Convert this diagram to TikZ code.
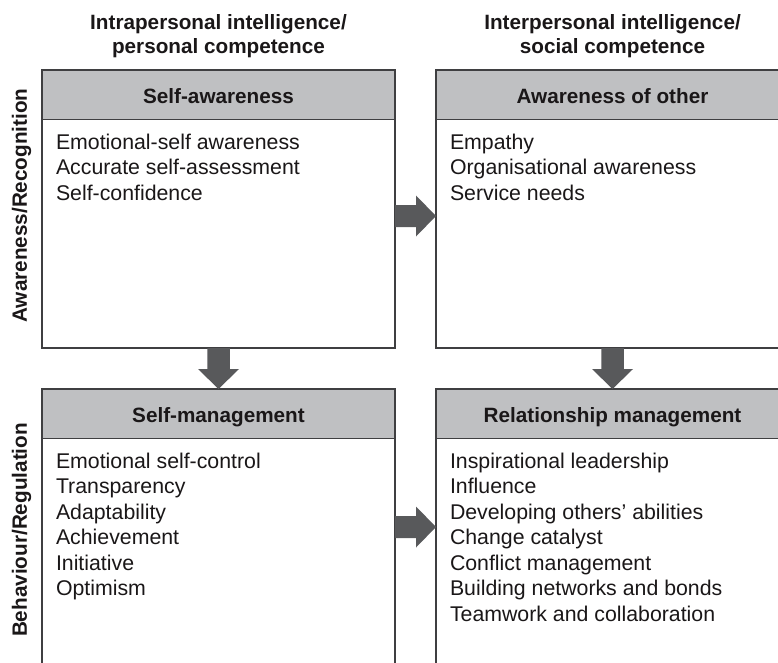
\documentclass[tikz,border=0pt]{standalone}
\usepackage{fontspec}
\setmainfont{Liberation Sans}
\usetikzlibrary{calc}
\definecolor{hdrgray}{HTML}{BFC0C2}
\definecolor{arrowgray}{HTML}{58595B}
\definecolor{edgegray}{HTML}{3F3F41}
\definecolor{inkc}{HTML}{1A1718}

% block arrow pointing down from #1 to #2 (vertically aligned points)
\newcommand\blockdown[2]{%
  \fill[blockarrow] ($(#1)+(-11.25,0)$) -- ($(#2)+(-11.25,-20)$) -- ($(#2)+(-20.5,-20)$)
    -- (#2) -- ($(#2)+(20.5,-20)$) -- ($(#2)+(11.25,-20)$) -- ($(#1)+(11.25,0)$) -- cycle;}
% block arrow pointing right from #1 to #2 (horizontally aligned points)
\newcommand\blockright[2]{%
  \fill[blockarrow] ($(#1)+(0,-11)$) -- ($(#2)+(-20,-11)$) -- ($(#2)+(-20,-20.5)$)
    -- (#2) -- ($(#2)+(-20,20.5)$) -- ($(#2)+(-20,11)$) -- ($(#1)+(0,11)$) -- cycle;}

\begin{document}
\begin{tikzpicture}[x=1pt,y=-1pt,
  every node/.style={inner sep=0pt, outer sep=0pt, text=inkc},
  hdr/.style={draw=edgegray, line width=1.2pt, fill=hdrgray, minimum width=353pt,
    minimum height=49.5pt, font=\fontsize{20.7}{24}\selectfont\bfseries,
    text height=16.8pt, text depth=0pt},
  bodybox/.style={draw=edgegray, line width=1.2pt, minimum width=353pt, anchor=north},
  items/.style={anchor=north west, align=left, font=\fontsize{21.3}{25.5}\selectfont},
  coltitle/.style={anchor=north, align=center, font=\fontsize{20.7}{23.5}\selectfont\bfseries},
  rowtitle/.style={rotate=90, anchor=base, font=\fontsize{20.7}{24}\selectfont\bfseries},
  blockarrow/.style={fill=arrowgray, draw=none}
]
\useasboundingbox (0,0) rectangle (778,663);
\clip (0,0) rectangle (778,663);
\fill[white] (0,0) rectangle (778,663);

% column and row titles
\node[coltitle] (colA) at (218.5,15) {Intrapersonal intelligence/\\personal competence};
\node[coltitle] (colB) at (612.5,15) {Interpersonal intelligence/\\social competence};
\node[rowtitle] (rowA) at (27,205.5) {Awareness/Recognition};
\node[rowtitle] (rowB) at (27,530) {Behaviour/Regulation};

% top-left: self-awareness
\node[hdr] (saH) at (218.5,94.75) {Self-awareness};
\node[bodybox, minimum height=228.5pt] (saB) at (saH.south) {};
\node[items] (saL) at ($(saB.north west)+(14,14.5)$)
  {Emotional-self awareness\\Accurate self-assessment\\Self-confidence};

% top-right: awareness of other
\node[hdr] (aoH) at (612.5,94.75) {Awareness of other};
\node[bodybox, minimum height=228.5pt] (aoB) at (aoH.south) {};
\node[items] (aoL) at ($(aoB.north west)+(14,14.5)$)
  {Empathy\\Organisational awareness\\Service needs};

% bottom-left: self-management
\node[hdr] (smH) at (218.5,413.75) {Self-management};
\node[bodybox, minimum height=250pt] (smB) at (smH.south) {};
\node[items] (smL) at ($(smB.north west)+(14,14.3)$)
  {Emotional self-control\\Transparency\\Adaptability\\Achievement\\Initiative\\Optimism};

% bottom-right: relationship management
\node[hdr] (rmH) at (612.5,413.75) {Relationship management};
\node[bodybox, minimum height=250pt] (rmB) at (rmH.south) {};
\node[items] (rmL) at ($(rmB.north west)+(14,14.3)$)
  {Inspirational leadership\\Influence\\Developing others’ abilities\\Change catalyst\\Conflict management\\Building networks and bonds\\Teamwork and collaboration};

% block arrows between the quadrants
\blockdown{saB.south}{smH.north}
\blockdown{aoB.south}{rmH.north}
\coordinate (ra1s) at ($(saB.east)+(0,-17.75)$);
\coordinate (ra1t) at (ra1s -| aoB.west);
\blockright{ra1s}{ra1t}
\coordinate (ra2s) at ($(smB.east)+(0,-36.5)$);
\coordinate (ra2t) at (ra2s -| rmB.west);
\blockright{ra2s}{ra2t}
\end{tikzpicture}
\end{document}
